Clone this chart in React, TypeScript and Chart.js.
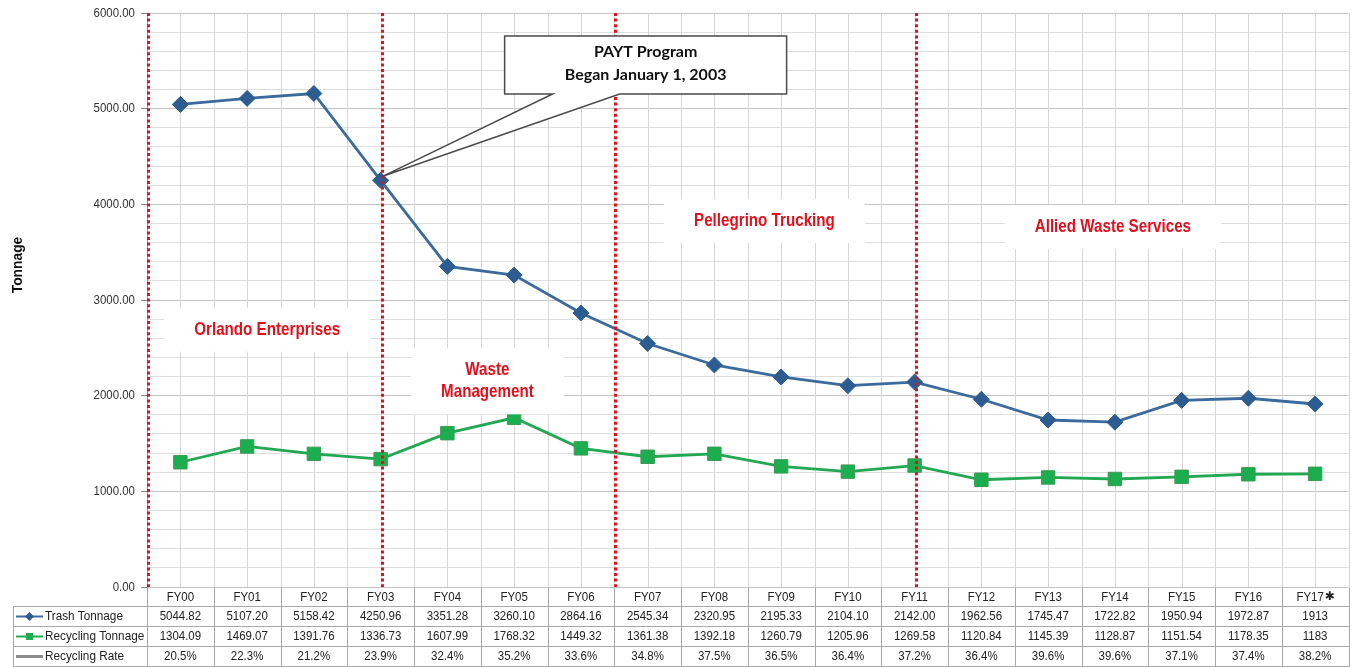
import React, { useEffect, useRef } from "react";
import { Chart, registerables } from "chart.js";
Chart.register(...registerables);

const categories = ["FY00","FY01","FY02","FY03","FY04","FY05","FY06","FY07","FY08","FY09","FY10","FY11","FY12","FY13","FY14","FY15","FY16","FY17*"];
const trashText = ["5044.82","5107.20","5158.42","4250.96","3351.28","3260.10","2864.16","2545.34","2320.95","2195.33","2104.10","2142.00","1962.56","1745.47","1722.82","1950.94","1972.87","1913"];
const recyclingText = ["1304.09","1469.07","1391.76","1336.73","1607.99","1768.32","1449.32","1361.38","1392.18","1260.79","1205.96","1269.58","1120.84","1145.39","1128.87","1151.54","1178.35","1183"];
const rateText = ["20.5%","22.3%","21.2%","23.9%","32.4%","35.2%","33.6%","34.8%","37.5%","36.5%","36.4%","37.2%","36.4%","39.6%","39.6%","37.1%","37.4%","38.2%"];
const trashTonnage = trashText.map(Number);
const recyclingTonnage = recyclingText.map(Number);
const rowLabels = ["Trash Tonnage", "Recycling Tonnage", "Recycling Rate"];
const yTicks = [0, 1000, 2000, 3000, 4000, 5000, 6000];

// contractor change positions (category index units)
const contractorLines = [-0.5, 3, 6.5, 11];
const contractorLabels = [
  { lines: ["Orlando Enterprises"], x: 1.3, y: 2690 },
  { lines: ["Waste", "Management"], x: 4.6, y: 2150 },
  { lines: ["Pellegrino Trucking"], x: 8.75, y: 3826 },
  { lines: ["Allied Waste Services"], x: 13.97, y: 3763 },
];
const calloutLines = ["PAYT Program", "Began January 1, 2003"];
const calloutAnchor = { x: 6.97, y: 5456 };
const calloutTarget = 3;

const SANS = '"Liberation Sans", Arial, sans-serif';
const TRASH_LINE = "#3b6a9c";
const TRASH_PT = "#2d5d90";
const REC_LINE = "#22a852";
const REC_PT = "#1cae4e";
const RED = "#e3101c";
const GRID = "#d6d6d6";
const NARROW = 0.85;

function txt(ctx: CanvasRenderingContext2D, s: string, x: number, y: number, font: string, color: string, align: CanvasTextAlign = "center", sx = 1) {
  ctx.save();
  ctx.font = font;
  ctx.fillStyle = color;
  ctx.textAlign = align;
  ctx.textBaseline = "middle";
  ctx.translate(x, y);
  ctx.scale(sx, 1);
  ctx.fillText(s, 0, 0);
  ctx.restore();
}

const overlay = {
  id: "overlay",
  beforeDatasetsDraw(chart: any) {
    const { ctx, chartArea: a, scales } = chart;
    const x = scales.x;
    ctx.save();
    ctx.strokeStyle = GRID;
    ctx.lineWidth = 1;
    for (let i = 0; i < categories.length; i++) {
      for (const d of [0, 0.5]) {
        const px = Math.round(x.getPixelForValue(i + d)) + 0.5;
        ctx.beginPath();
        ctx.moveTo(px, a.top);
        ctx.lineTo(px, a.bottom);
        ctx.stroke();
      }
    }
    ctx.restore();
  },
  afterDatasetsDraw(chart: any) {
    const { ctx, chartArea: a, scales } = chart;
    const x = scales.x, y = scales.y;
    // red dotted contractor lines
    ctx.save();
    ctx.strokeStyle = RED;
    ctx.lineWidth = 3;
    ctx.setLineDash([3, 2.6]);
    for (const c of contractorLines) {
      const px = Math.round(x.getPixelForValue(c)) + 1.5;
      ctx.beginPath();
      ctx.moveTo(px, a.top);
      ctx.lineTo(px, a.bottom);
      ctx.stroke();
    }
    ctx.restore();

    // contractor labels
    const lf = `bold 18.5px ${SANS}`;
    for (const l of contractorLabels) {
      const cx = x.getPixelForValue(l.x);
      const cy = y.getPixelForValue(l.y);
      const lh = 22;
      const h = l.lines.length * lh + 22;
      ctx.save();
      ctx.font = lf;
      const w = Math.max(...l.lines.map((s) => ctx.measureText(s).width)) * 0.82 + 60;
      ctx.fillStyle = "#ffffff";
      ctx.fillRect(cx - w / 2, cy - h / 2, w, h);
      ctx.restore();
      l.lines.forEach((s, i) => {
        txt(ctx, s, cx, cy + (i - (l.lines.length - 1) / 2) * lh, lf, RED, "center", 0.82);
      });
    }

    // callout
    const bx = x.getPixelForValue(calloutAnchor.x);
    const by = y.getPixelForValue(calloutAnchor.y);
    const bw = 282, bh = 58;
    const L = bx - bw / 2, R = bx + bw / 2, T = by - bh / 2, B = by + bh / 2;
    const tx = x.getPixelForValue(calloutTarget) + 2;
    const ty = y.getPixelForValue(trashTonnage[calloutTarget]) - 4;
    ctx.save();
    ctx.beginPath();
    ctx.moveTo(L, T);
    ctx.lineTo(R, T);
    ctx.lineTo(R, B);
    ctx.lineTo(L + 115, B);
    ctx.lineTo(tx, ty);
    ctx.lineTo(L + 48, B);
    ctx.lineTo(L, B);
    ctx.closePath();
    ctx.fillStyle = "#ffffff";
    ctx.fill();
    ctx.strokeStyle = "#4a4a4a";
    ctx.lineWidth = 1.5;
    ctx.stroke();
    ctx.restore();
    txt(ctx, calloutLines[0], bx, T + 16, `bold 16px Lato, ${SANS}`, "#111");
    txt(ctx, calloutLines[1], bx, T + 39, `bold 16px Lato, ${SANS}`, "#111");
  },
  afterDraw(chart: any) {
    const { ctx, chartArea: a, scales } = chart;
    const x = scales.x, y = scales.y;
    const H = chart.height;
    const tableLeft = 13.5;
    const top = Math.round(a.bottom) + 0.5;
    const rowTop = top + 19;
    const rowH = 20;
    const right = Math.round(a.right) + 0.5;
    const tf = `13.5px ${SANS}`;

    // y tick labels
    yTicks.forEach((v) => txt(ctx, v.toFixed(2), a.left - 12, y.getPixelForValue(v), tf, "#333", "right", NARROW));

    ctx.save();
    ctx.strokeStyle = "#a8a8a8";
    ctx.lineWidth = 1;
    // column lines
    for (let i = 0; i <= categories.length; i++) {
      const px = Math.round(x.getPixelForValue(i - 0.5)) + 0.5;
      ctx.beginPath();
      ctx.moveTo(px, top);
      ctx.lineTo(px, H - 0.5);
      ctx.stroke();
    }
    ctx.beginPath();
    ctx.moveTo(tableLeft, rowTop);
    ctx.lineTo(tableLeft, H - 0.5);
    ctx.stroke();
    for (let r = 0; r <= 3; r++) {
      const py = Math.min(rowTop + r * rowH, H - 0.5);
      ctx.beginPath();
      ctx.moveTo(tableLeft, py);
      ctx.lineTo(right, py);
      ctx.stroke();
    }
    ctx.restore();

    // header labels
    categories.forEach((c, i) => {
      const cx = x.getPixelForValue(i);
      const cy = top + 10;
      if (c.endsWith("*")) {
        const base = c.slice(0, -1);
        ctx.save();
        ctx.font = tf;
        const w = ctx.measureText(base).width * NARROW;
        ctx.restore();
        txt(ctx, base, cx - 5, cy, tf, "#222", "center", NARROW);
        txt(ctx, "\u2731", cx - 5 + w / 2 + 1, cy - 1, `bold 12px "DejaVu Sans", ${SANS}`, "#222", "left");
      } else {
        txt(ctx, c, cx, cy, tf, "#222", "center", NARROW);
      }
    });
    // rows
    const rows = [trashText, recyclingText, rateText];
    rows.forEach((row, r) => {
      const cy = rowTop + r * rowH + rowH / 2;
      row.forEach((s, i) => txt(ctx, s, x.getPixelForValue(i), cy, tf, "#222", "center", NARROW));
      txt(ctx, rowLabels[r], 45, cy, tf, "#222", "left", 0.87);
      // legend keys
      ctx.save();
      if (r === 0) {
        ctx.strokeStyle = TRASH_LINE; ctx.lineWidth = 2;
        ctx.beginPath(); ctx.moveTo(16, cy); ctx.lineTo(43, cy); ctx.stroke();
        ctx.fillStyle = TRASH_PT;
        ctx.beginPath(); ctx.moveTo(29.5, cy - 4.5); ctx.lineTo(34, cy); ctx.lineTo(29.5, cy + 4.5); ctx.lineTo(25, cy); ctx.closePath(); ctx.fill();
      } else if (r === 1) {
        ctx.strokeStyle = REC_LINE; ctx.lineWidth = 2;
        ctx.beginPath(); ctx.moveTo(16, cy); ctx.lineTo(43, cy); ctx.stroke();
        ctx.fillStyle = REC_PT;
        ctx.fillRect(26, cy - 3.5, 7, 7);
      } else {
        ctx.strokeStyle = "#8c8c8c"; ctx.lineWidth = 3;
        ctx.beginPath(); ctx.moveTo(16, cy); ctx.lineTo(43, cy); ctx.stroke();
      }
      ctx.restore();
    });

    // y axis title
    ctx.save();
    ctx.translate(18, 265);
    ctx.rotate(-Math.PI / 2);
    txt(ctx, "Tonnage", 0, 0, `bold 15px ${SANS}`, "#111", "center", 0.92);
    ctx.restore();
  },
};

export default function App() {
  const ref = useRef<HTMLCanvasElement | null>(null);
  useEffect(() => {
    document.body.style.margin = "0";
    const canvas = ref.current;
    if (!canvas) return;
    const chart = new Chart(canvas, {
      type: "line",
      data: {
        labels: categories,
        datasets: [
          {
            label: rowLabels[0],
            data: trashTonnage,
            borderColor: TRASH_LINE,
            borderWidth: 2.8,
            pointStyle: "rectRot",
            pointRadius: 8,
            pointBackgroundColor: TRASH_PT,
            pointBorderColor: TRASH_PT,
            pointBorderWidth: 1,
            tension: 0,
          },
          {
            label: rowLabels[1],
            data: recyclingTonnage,
            borderColor: REC_LINE,
            borderWidth: 2.8,
            pointStyle: "rect",
            pointRadius: 9.5,
            pointBackgroundColor: REC_PT,
            pointBorderColor: "#3c9a55",
            pointBorderWidth: 1,
            tension: 0,
          },
        ],
      },
      options: {
        animation: false,
        responsive: false,
        devicePixelRatio: 1,
        layout: { padding: { left: 0, right: 10, top: 13, bottom: 80 } },
        plugins: { legend: { display: false }, tooltip: { enabled: false } },
        scales: {
          x: {
            type: "category",
            offset: true,
            display: false,
            grid: { display: false },
          },
          y: {
            min: 0,
            max: 6000,
            afterFit: (s: any) => { s.width = 147; },
            afterBuildTicks: (s: any) => {
              const t: any[] = [];
              for (let v = 0; v <= 6000; v += 200) t.push({ value: v });
              s.ticks = t;
            },
            ticks: {
              autoSkip: false,
              padding: 4,
              font: { family: SANS, size: 11 },
              callback: () => "",
            },
            grid: {
              color: (c: any) => (c.tick && c.tick.value % 1000 === 0 ? "#c4c4c4" : "#dedede"),
              tickColor: (c: any) => (c.tick && c.tick.value % 1000 === 0 ? "#888" : "rgba(0,0,0,0)"),
              tickLength: 6,
              lineWidth: 1,
            },
            border: { display: true, color: "#999" },
          },
        },
      },
      plugins: [overlay],
    });
    return () => chart.destroy();
  }, []);
  return <canvas ref={ref} width={1359} height={667} style={{ display: "block" }} />;
}
